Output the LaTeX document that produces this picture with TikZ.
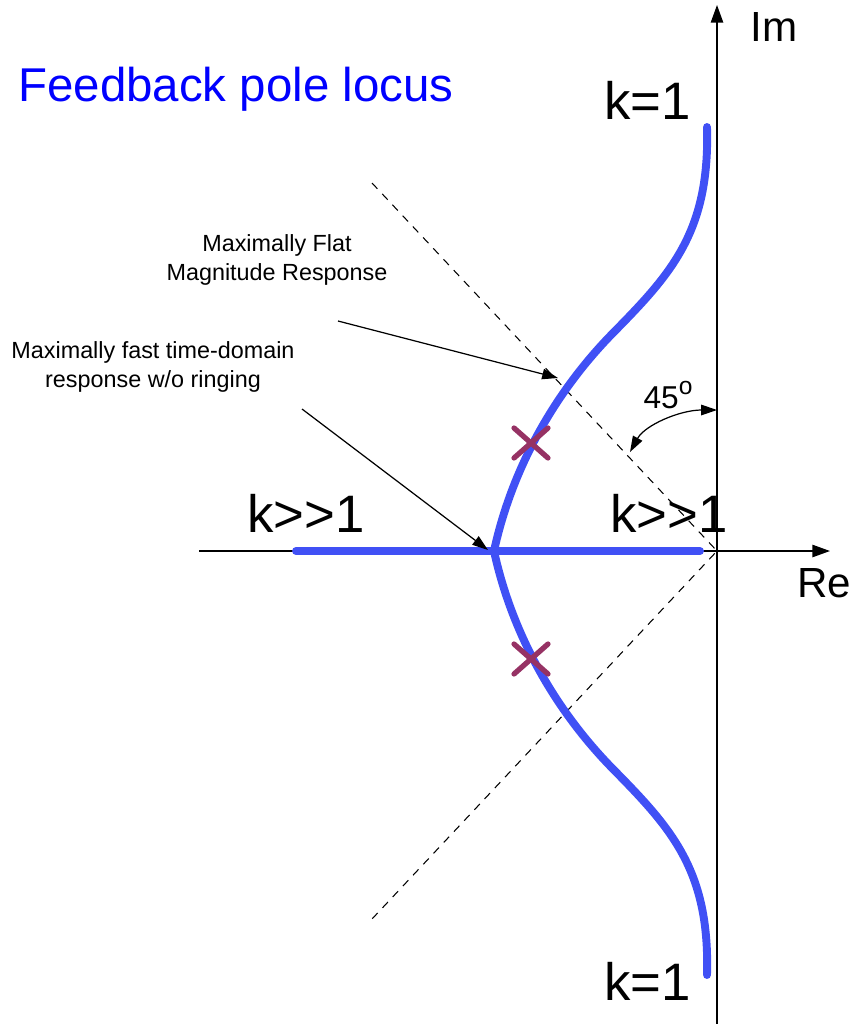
\documentclass[tikz,border=0pt]{standalone}
\usepackage{fontspec}
\setmainfont{Liberation Sans}
\usetikzlibrary{arrows.meta}
\definecolor{locusblue}{RGB}{64,80,245}
\definecolor{polered}{RGB}{150,50,100}
\tikzset{
  axis/.style    = {line width=0.85pt, -{Triangle[length=10pt,width=7pt]}},
  guide/.style   = {dash pattern=on 4.5pt off 4pt, line width=0.6pt},
  locus/.style   = {line width=4.5pt, locusblue, line cap=round, line join=round},
  pointer/.style = {line width=0.7pt, -{Triangle[length=9pt,width=6pt]}},
  biglbl/.style  = {font=\fontsize{30}{36}\selectfont, inner sep=0, anchor=base west},
  axlbl/.style   = {font=\fontsize{24}{29}\selectfont, inner sep=0, anchor=base west},
  note/.style    = {font=\fontsize{13.3}{16}\selectfont, align=center, inner sep=0, anchor=base},
}
\newcommand{\polecross}[2]{%
  \draw[polered, line width=3pt, line cap=round] (#1-17,#2-15) -- (#1+17,#2+15);
  \draw[polered, line width=3pt, line cap=round] (#1-17,#2+15) -- (#1+17,#2-15);
}

\begin{document}
\begin{tikzpicture}[x=0.02cm, y=-0.02cm]
  \useasboundingbox (0,0) rectangle (856,1024);
  % axes
  \coordinate (O) at (717,551);
  \coordinate (imlo) at (717,1024);
  \coordinate (imhi) at (717,5);
  \coordinate (relo) at (199,551);
  \coordinate (rehi) at (830,551);
  \draw[axis] (imlo) -- (imhi);
  \draw[axis] (relo) -- (rehi);
  \node[axlbl] (imlab) at (750,42) {Im};
  \node[axlbl] (relab) at (797,597) {Re};
  % 45 degree guides
  \coordinate (gup) at (372,183);
  \coordinate (gdn) at (372,919);
  \draw[guide] (gup) -- (O) -- (gdn);
  % root locus
  \coordinate (cusp) at (494,551);
  \draw[locus] (296,551) -- (700,551);
  \draw[locus] (707,127) .. controls (710,232) and (671,274) .. (613,333)
    .. controls (555,392) and (512,468) .. (cusp)
    .. controls (512,634) and (555,710) .. (613,769)
    .. controls (671,828) and (710,870) .. (707,975);
  \polecross{531}{443}
  \polecross{531}{659}
  % labels
  \node[anchor=base west, inner sep=0, text=blue, font=\fontsize{27}{32}\selectfont] (title) at (18,102) {Feedback pole locus};
  \node[biglbl] (ktop) at (604,119) {k=1};
  \node[biglbl] (kbot) at (604,1000) {k=1};
  \node[biglbl] (kleft) at (247,532) {k>\kern0pt>1};
  \node[biglbl] (kright) at (610,532) {k>\kern0pt>1};
  % angle
  \coordinate (angtop) at (717,410);
  \coordinate (angbot) at (630,452);
  \draw[line width=0.7pt, {Triangle[length=9pt,width=6pt]}-{Triangle[length=9pt,width=6pt]}]
    (angtop) .. controls (680,410) and (645,425) .. (angbot);
  \node[inner sep=0, font=\fontsize{18}{22}\selectfont] (ang) at (668,395)
    {45\raisebox{0.42em}{\fontsize{14}{14}\selectfont o}};
  % annotations
  \node[note] (flat) at (277,280) {Maximally Flat\\Magnitude Response};
  \node[note] (fast) at (153,387) {Maximally fast time-domain\\response w/o ringing};
  \coordinate (flatfoot) at (338,321);
  \coordinate (flattip) at (558,378);
  \coordinate (fastfoot) at (302,409);
  \coordinate (fasttip) at (488,550);
  \draw[pointer] (flatfoot) -- (flattip);
  \draw[pointer] (fastfoot) -- (fasttip);
\end{tikzpicture}
\end{document}
